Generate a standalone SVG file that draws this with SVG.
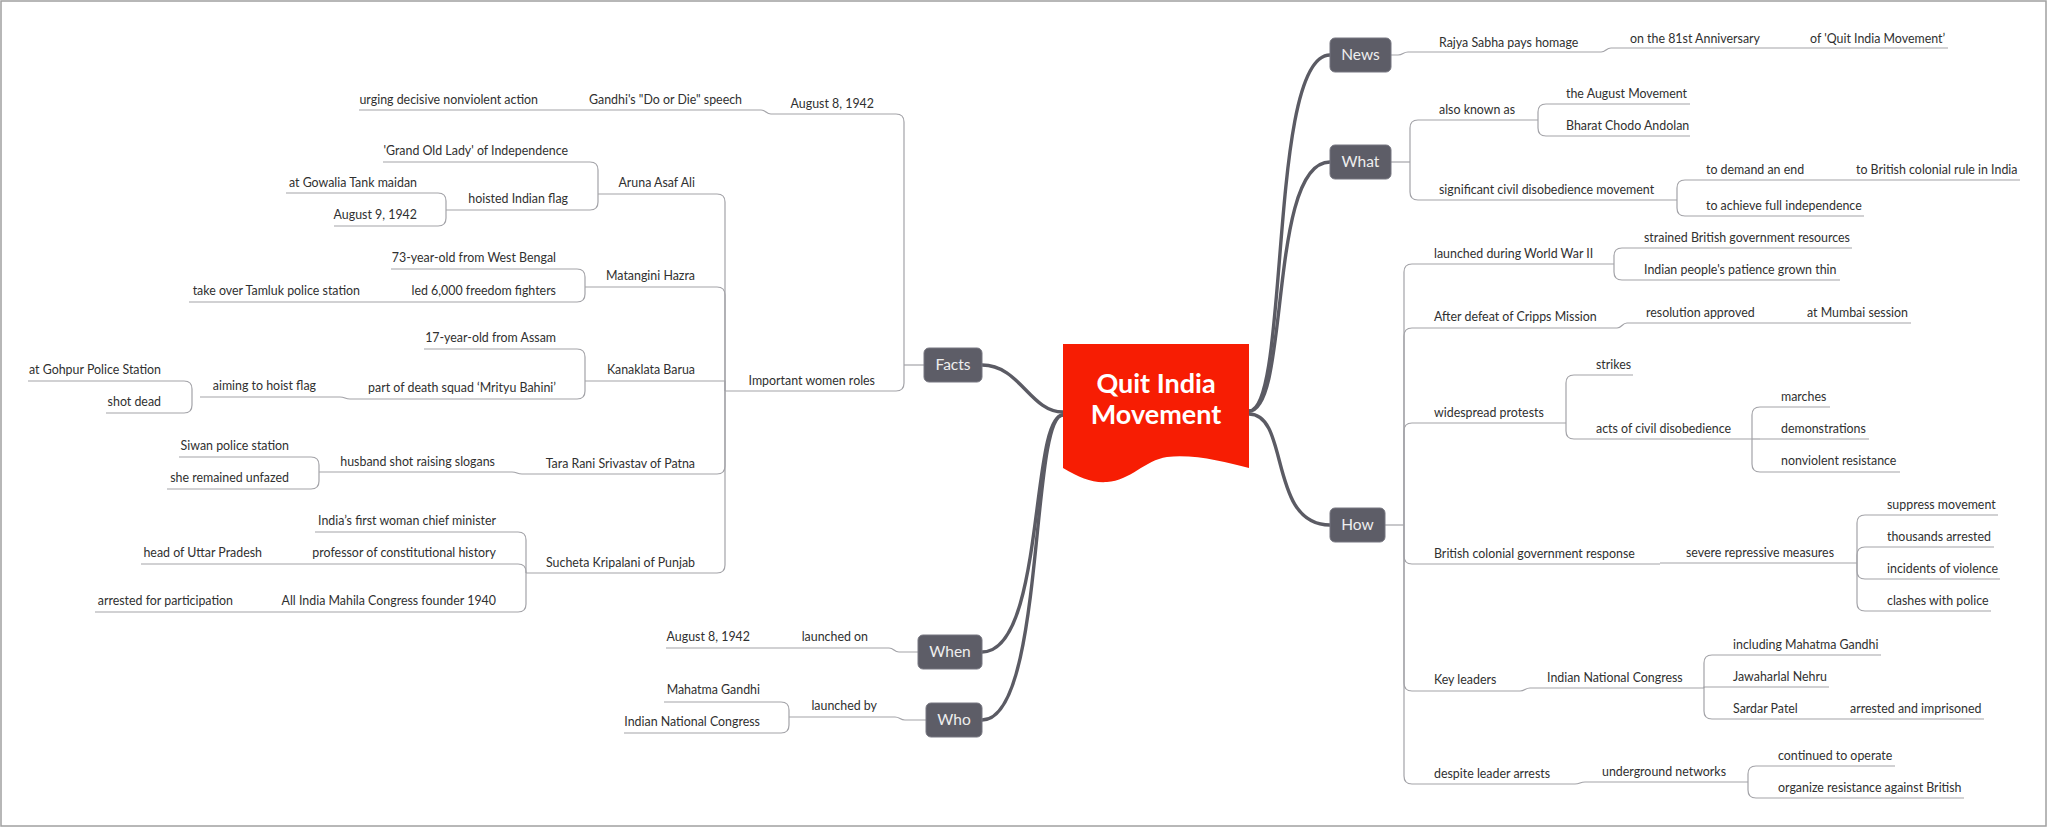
<svg xmlns="http://www.w3.org/2000/svg" width="2048" height="827" viewBox="0 0 2048 827">
<style>
.t{font-family:Lato,"Liberation Sans",sans-serif;font-size:12.4px;fill:#303030}
.l{text-anchor:end}
.u,.c{stroke:#a3a3a8;stroke-width:1.2;fill:none}
.m{stroke:#5b5b64;stroke-width:3.4;fill:none;stroke-linecap:round}
.box{fill:#5d5d67;stroke:#777781;stroke-width:1}
.bt{font-family:Lato,"Liberation Sans",sans-serif;font-size:15.5px;fill:#eeeeee;text-anchor:middle}
.ct{font-family:Lato,"Liberation Sans",sans-serif;font-size:27px;font-weight:700;fill:#ffffff;text-anchor:middle}
</style>
<rect x="0" y="0" width="2048" height="827" fill="#ffffff"/>
<rect x="1" y="1" width="2045" height="825" fill="none" stroke="#a0a0a0" stroke-width="1.5"/>

<g id="connectors">
<path class="m" d="M1249,411 C1290,411 1268,55 1330,55"/>
<path class="m" d="M1249,411 C1290,411 1268,162 1330,162"/>
<path class="m" d="M1249,414 C1290,414 1268,525 1330,525"/>
<path class="m" d="M1063,412 C1030,412 1020,365 982,365"/>
<path class="m" d="M1063,415 C1030,415 1045,652 982,652"/>
<path class="m" d="M1063,415 C1030,415 1045,720 982,720"/>
<!-- News -->
<path class="c" d="M1391,55 H1398 C1403,55 1403,52 1408,52"/>
<path class="c" d="M1601,52 C1606,52 1606,48 1611,48"/>
<!-- What -->
<path class="c" d="M1391,162 H1410"/>
<path class="c" d="M1410,162 V128 Q1410,120 1418,120"/>
<path class="c" d="M1410,162 V192 Q1410,200 1418,200"/>
<path class="c" d="M1538,120 V112 Q1538,104 1546,104"/>
<path class="c" d="M1538,120 V128 Q1538,136 1546,136"/>
<path class="c" d="M1677,200 V188 Q1677,180 1685,180"/>
<path class="c" d="M1677,200 V208 Q1677,216 1685,216"/>
<!-- How -->
<path class="c" d="M1385,525 H1404"/>
<path class="c" d="M1404,525 V272 Q1404,264 1412,264"/>
<path class="c" d="M1404,525 V336 Q1404,328 1412,328"/>
<path class="c" d="M1404,525 V431 Q1404,423 1412,423"/>
<path class="c" d="M1404,525 V556 Q1404,564 1412,564"/>
<path class="c" d="M1404,525 V683 Q1404,691 1412,691"/>
<path class="c" d="M1404,525 V776 Q1404,784 1412,784"/>
<path class="c" d="M1614,264 V256 Q1614,248 1622,248"/>
<path class="c" d="M1614,264 V272 Q1614,280 1622,280"/>
<path class="c" d="M1617,328 C1622,328 1622,323 1627,323"/>
<path class="c" d="M1566,423 V383 Q1566,375 1574,375"/>
<path class="c" d="M1566,423 V431 Q1566,439 1574,439"/>
<path class="c" d="M1752,439 V415 Q1752,407 1760,407"/>
<path class="c" d="M1752,439 H1760"/>
<path class="c" d="M1752,439 V464 Q1752,472 1760,472"/>
<path class="c" d="M1857,563 V523 Q1857,515 1865,515"/>
<path class="c" d="M1857,563 V555 Q1857,547 1865,547"/>
<path class="c" d="M1857,563 V571 Q1857,579 1865,579"/>
<path class="c" d="M1857,563 V603 Q1857,611 1865,611"/>
<path class="c" d="M1520,691 C1525,691 1525,688 1530,688"/>
<path class="c" d="M1704,688 V663 Q1704,655 1712,655"/>
<path class="c" d="M1704,688 V687 H1712"/>
<path class="c" d="M1704,688 V711 Q1704,719 1712,719"/>
<path class="c" d="M1575,784 C1580,784 1580,782 1585,782"/>
<path class="c" d="M1748,782 V774 Q1748,766 1756,766"/>
<path class="c" d="M1748,782 V790 Q1748,798 1756,798"/>
<!-- Facts -->
<path class="c" d="M924,365 H904"/>
<path class="c" d="M904,365 V122 Q904,114 896,114"/>
<path class="c" d="M904,365 V383 Q904,391 896,391"/>
<path class="c" d="M771,114 C766,114 766,110 761,110"/>
<path class="c" d="M725,391 V202 Q725,194 717,194"/>
<path class="c" d="M725,391 V295 Q725,287 717,287"/>
<path class="c" d="M725,391 V381 H717"/>
<path class="c" d="M725,391 V466 Q725,474 717,474"/>
<path class="c" d="M725,391 V565 Q725,573 717,573"/>
<path class="c" d="M598,194 V170 Q598,162 590,162"/>
<path class="c" d="M598,194 V202 Q598,210 590,210"/>
<path class="c" d="M446,210 V201 Q446,193 438,193"/>
<path class="c" d="M446,210 V218 Q446,226 438,226"/>
<path class="c" d="M585,287 V277 Q585,269 577,269"/>
<path class="c" d="M585,287 V294 Q585,302 577,302"/>
<path class="c" d="M585,381 V357 Q585,349 577,349"/>
<path class="c" d="M585,381 V391 Q585,399 577,399"/>
<path class="c" d="M350,399 C345,399 345,397 340,397"/>
<path class="c" d="M192,397 V389 Q192,381 184,381"/>
<path class="c" d="M192,397 V405 Q192,413 184,413"/>
<path class="c" d="M522,474 C517,474 517,472 512,472"/>
<path class="c" d="M319,472 V465 Q319,457 311,457"/>
<path class="c" d="M319,472 V481 Q319,489 311,489"/>
<path class="c" d="M526,573 V540 Q526,532 518,532"/>
<path class="c" d="M526,573 V572 Q526,564 518,564"/>
<path class="c" d="M526,573 V604 Q526,612 518,612"/>
<!-- When / Who -->
<path class="c" d="M918,652 H899 C894,652 894,648 889,648"/>
<path class="c" d="M926,720 H905 C900,720 900,717 895,717"/>
<path class="c" d="M789,717 V710 Q789,702 781,702"/>
<path class="c" d="M789,717 V725 Q789,733 781,733"/>
</g>

<g id="center">
<path d="M1063,344 H1249 V468 C1225,462 1195,454 1167,457 C1145,460 1130,481 1107,482 C1092,483 1080,478 1063,468 Z" fill="#f71d03"/>
<text class="ct" x="1156" y="393">Quit India</text>
<text class="ct" x="1156" y="424">Movement</text>
</g>

<g id="news"><rect class="box" x="1330" y="38" width="61" height="34" rx="5"/><text class="bt" x="1360.5" y="60">News</text></g>
<g id="what"><rect class="box" x="1330" y="145" width="61" height="34" rx="5"/><text class="bt" x="1360.5" y="167">What</text></g>
<g id="how"><rect class="box" x="1330" y="508" width="55" height="34" rx="5"/><text class="bt" x="1357.5" y="530">How</text></g>
<g id="facts"><rect class="box" x="924" y="348" width="58" height="34" rx="5"/><text class="bt" x="953" y="370">Facts</text></g>
<g id="when"><rect class="box" x="918" y="635" width="64" height="34" rx="5"/><text class="bt" x="950" y="657">When</text></g>
<g id="who"><rect class="box" x="926" y="703" width="56" height="34" rx="5"/><text class="bt" x="954" y="725">Who</text></g>

<!-- News children -->
<g id="n1"><path class="u" d="M1408,52 H1601"/><text class="t" x="1439" y="47">Rajya Sabha pays homage</text></g>
<g id="n2"><path class="u" d="M1611,48 H1781"/><text class="t" x="1630" y="43">on the 81st Anniversary</text></g>
<g id="n3"><path class="u" d="M1781,48 H1948"/><text class="t" x="1810" y="43">of 'Quit India Movement’</text></g>

<!-- What children -->
<g id="w1"><path class="u" d="M1418,120 H1538"/><text class="t" x="1439" y="114">also known as</text></g>
<g id="w1a"><path class="u" d="M1546,104 H1690"/><text class="t" x="1566" y="98">the August Movement</text></g>
<g id="w1b"><path class="u" d="M1546,136 H1690"/><text class="t" x="1566" y="130">Bharat Chodo Andolan</text></g>
<g id="w2"><path class="u" d="M1418,200 H1677"/><text class="t" x="1439" y="194">significant civil disobedience movement</text></g>
<g id="w2a"><path class="u" d="M1685,180 H1829"/><text class="t" x="1706" y="174">to demand an end</text></g>
<g id="w2a1"><path class="u" d="M1829,180 H2020"/><text class="t" x="1856" y="174">to British colonial rule in India</text></g>
<g id="w2b"><path class="u" d="M1685,216 H1864"/><text class="t" x="1706" y="210">to achieve full independence</text></g>

<!-- How children -->
<g id="h1"><path class="u" d="M1412,264 H1614"/><text class="t" x="1434" y="258">launched during World War II</text></g>
<g id="h1a"><path class="u" d="M1622,248 H1852"/><text class="t" x="1644" y="242">strained British government resources</text></g>
<g id="h1b"><path class="u" d="M1622,280 H1840"/><text class="t" x="1644" y="274">Indian people's patience grown thin</text></g>
<g id="h2"><path class="u" d="M1412,328 H1617"/><text class="t" x="1434" y="321">After defeat of Cripps Mission</text></g>
<g id="h2a"><path class="u" d="M1627,323 H1777"/><text class="t" x="1646" y="317">resolution approved</text></g>
<g id="h2a1"><path class="u" d="M1777,323 H1911"/><text class="t" x="1807" y="317">at Mumbai session</text></g>
<g id="h3"><path class="u" d="M1412,423 H1566"/><text class="t" x="1434" y="417">widespread protests</text></g>
<g id="h3a"><path class="u" d="M1574,375 H1633"/><text class="t" x="1596" y="369">strikes</text></g>
<g id="h3b"><path class="u" d="M1574,439 H1752"/><text class="t" x="1596" y="433">acts of civil disobedience</text></g>
<g id="h3b1"><path class="u" d="M1760,407 H1830"/><text class="t" x="1781" y="401">marches</text></g>
<g id="h3b2"><path class="u" d="M1760,439 H1869"/><text class="t" x="1781" y="433">demonstrations</text></g>
<g id="h3b3"><path class="u" d="M1760,472 H1900"/><text class="t" x="1781" y="465">nonviolent resistance</text></g>
<g id="h4"><path class="u" d="M1412,564 H1660"/><text class="t" x="1434" y="558">British colonial government response</text></g>
<g id="h4a"><path class="u" d="M1660,563 H1857"/><text class="t" x="1686" y="557">severe repressive measures</text></g>
<g id="h4a1"><path class="u" d="M1865,515 H1998"/><text class="t" x="1887" y="509">suppress movement</text></g>
<g id="h4a2"><path class="u" d="M1865,547 H1994"/><text class="t" x="1887" y="541">thousands arrested</text></g>
<g id="h4a3"><path class="u" d="M1865,579 H2000"/><text class="t" x="1887" y="573">incidents of violence</text></g>
<g id="h4a4"><path class="u" d="M1865,611 H1991"/><text class="t" x="1887" y="605">clashes with police</text></g>
<g id="h5"><path class="u" d="M1412,691 H1520"/><text class="t" x="1434" y="684">Key leaders</text></g>
<g id="h5a"><path class="u" d="M1530,688 H1704"/><text class="t" x="1547" y="682">Indian National Congress</text></g>
<g id="h5a1"><path class="u" d="M1712,655 H1881"/><text class="t" x="1733" y="649">including Mahatma Gandhi</text></g>
<g id="h5a2"><path class="u" d="M1712,687 H1829"/><text class="t" x="1733" y="681">Jawaharlal Nehru</text></g>
<g id="h5a3"><path class="u" d="M1712,719 H1821"/><text class="t" x="1733" y="713">Sardar Patel</text></g>
<g id="h5a3a"><path class="u" d="M1821,719 H1984"/><text class="t" x="1850" y="713">arrested and imprisoned</text></g>
<g id="h6"><path class="u" d="M1412,784 H1575"/><text class="t" x="1434" y="778">despite leader arrests</text></g>
<g id="h6a"><path class="u" d="M1585,782 H1748"/><text class="t" x="1602" y="776">underground networks</text></g>
<g id="h6a1"><path class="u" d="M1756,766 H1895"/><text class="t" x="1778" y="760">continued to operate</text></g>
<g id="h6a2"><path class="u" d="M1756,798 H1964"/><text class="t" x="1778" y="792">organize resistance against British</text></g>

<!-- Facts children -->
<g id="f1"><path class="u" d="M771,114 H896"/><text class="t l" x="874" y="108">August 8, 1942</text></g>
<g id="f1a"><path class="u" d="M542,110 H761"/><text class="t l" x="742" y="104">Gandhi's "Do or Die" speech</text></g>
<g id="f1a1"><path class="u" d="M359,110 H542"/><text class="t l" x="538" y="104">urging decisive nonviolent action</text></g>
<g id="f2"><path class="u" d="M725,391 H896"/><text class="t l" x="875" y="385">Important women roles</text></g>
<g id="aruna"><path class="u" d="M598,194 H717"/><text class="t l" x="695" y="187">Aruna Asaf Ali</text></g>
<g id="aruna1"><path class="u" d="M383,162 H590"/><text class="t l" x="568" y="155">'Grand Old Lady' of Independence</text></g>
<g id="aruna2"><path class="u" d="M446,210 H590"/><text class="t l" x="568" y="203">hoisted Indian flag</text></g>
<g id="aruna2a"><path class="u" d="M286,193 H438"/><text class="t l" x="417" y="187">at Gowalia Tank maidan</text></g>
<g id="aruna2b"><path class="u" d="M334,226 H438"/><text class="t l" x="417" y="219">August 9, 1942</text></g>
<g id="matangini"><path class="u" d="M585,287 H717"/><text class="t l" x="695" y="280">Matangini Hazra</text></g>
<g id="mat1"><path class="u" d="M391,269 H577"/><text class="t l" x="556" y="262">73-year-old from West Bengal</text></g>
<g id="mat2"><path class="u" d="M361,302 H577"/><text class="t l" x="556" y="295">led 6,000 freedom fighters</text></g>
<g id="mat2a"><path class="u" d="M189,302 H361"/><text class="t l" x="360" y="295">take over Tamluk police station</text></g>
<g id="kanaklata"><path class="u" d="M585,381 H717"/><text class="t l" x="695" y="374">Kanaklata Barua</text></g>
<g id="kan1"><path class="u" d="M424,349 H577"/><text class="t l" x="556" y="342">17-year-old from Assam</text></g>
<g id="kan2"><path class="u" d="M350,399 H577"/><text class="t l" x="556" y="392">part of death squad ‘Mrityu Bahini’</text></g>
<g id="kan2a"><path class="u" d="M200,397 H340"/><text class="t l" x="316" y="390">aiming to hoist flag</text></g>
<g id="kan2a1"><path class="u" d="M28,381 H184"/><text class="t l" x="161" y="374">at Gohpur Police Station</text></g>
<g id="kan2a2"><path class="u" d="M106,413 H184"/><text class="t l" x="161" y="406">shot dead</text></g>
<g id="tara"><path class="u" d="M522,474 H717"/><text class="t l" x="695" y="468">Tara Rani Srivastav of Patna</text></g>
<g id="tara1"><path class="u" d="M319,472 H512"/><text class="t l" x="495" y="466">husband shot raising slogans</text></g>
<g id="tara1a"><path class="u" d="M179,457 H311"/><text class="t l" x="289" y="450">Siwan police station</text></g>
<g id="tara1b"><path class="u" d="M167,489 H311"/><text class="t l" x="289" y="482">she remained unfazed</text></g>
<g id="sucheta"><path class="u" d="M526,573 H717"/><text class="t l" x="695" y="567">Sucheta Kripalani of Punjab</text></g>
<g id="such1"><path class="u" d="M315,532 H518"/><text class="t l" x="496" y="525">India’s first woman chief minister</text></g>
<g id="such2"><path class="u" d="M292,564 H518"/><text class="t l" x="496" y="557">professor of constitutional history</text></g>
<g id="such2a"><path class="u" d="M141,564 H292"/><text class="t l" x="262" y="557">head of Uttar Pradesh</text></g>
<g id="such3"><path class="u" d="M263,612 H518"/><text class="t l" x="496" y="605">All India Mahila Congress founder 1940</text></g>
<g id="such3a"><path class="u" d="M95,612 H263"/><text class="t l" x="233" y="605">arrested for participation</text></g>

<!-- When / Who children -->
<g id="when1"><path class="u" d="M780,648 H889"/><text class="t l" x="868" y="641">launched on</text></g>
<g id="when1a"><path class="u" d="M666,648 H780"/><text class="t l" x="750" y="641">August 8, 1942</text></g>
<g id="who1"><path class="u" d="M789,717 H895"/><text class="t l" x="877" y="710">launched by</text></g>
<g id="who1a"><path class="u" d="M664,702 H781"/><text class="t l" x="760" y="694">Mahatma Gandhi</text></g>
<g id="who1b"><path class="u" d="M624,733 H781"/><text class="t l" x="760" y="726">Indian National Congress</text></g>
</svg>
